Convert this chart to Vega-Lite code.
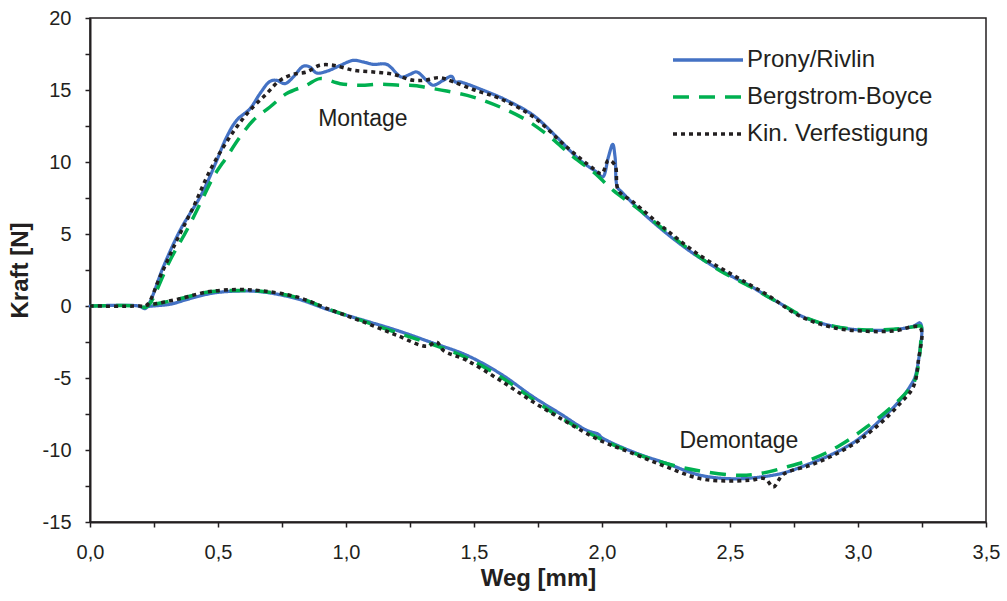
{
  "$schema": "https://vega.github.io/schema/vega-lite/v6.json",
  "width": 896,
  "height": 504,
  "autosize": "none",
  "padding": {"left": 90, "top": 18, "right": 21, "bottom": 79},
  "background": "white",
  "config": {
    "view": {"stroke": "#231F20", "strokeWidth": 1.5},
    "axis": {
      "domainColor": "#231F20", "domainWidth": 2,
      "tickColor": "#231F20", "tickWidth": 1.5, "tickSize": 5,
      "labelFont": "Liberation Sans", "labelFontSize": 20, "labelColor": "#231F20",
      "titleFont": "Liberation Sans", "titleFontSize": 24, "titleFontWeight": "bold", "titleColor": "#231F20",
      "grid": false, "labelOverlap": false, "labelFlush": false
    },
    "legend": {
      "labelFont": "Liberation Sans", "labelFontSize": 24, "labelColor": "#231F20", "labelLimit": 400,
      "symbolType": "M-2.5,0H2.5", "symbolSize": 784, "symbolStrokeWidth": 3.5,
      "rowPadding": 9, "labelOffset": 23
    }
  },
  "datasets": {
    "curves": [
      {"s":"Prony/Rivlin","x":0,"y":0},{"s":"Prony/Rivlin","x":0.19,"y":0},{"s":"Prony/Rivlin","x":0.215,"y":-0.18},{"s":"Prony/Rivlin","x":0.234,"y":0.28},{"s":"Prony/Rivlin","x":0.286,"y":2.7},{"s":"Prony/Rivlin","x":0.352,"y":5.26},{"s":"Prony/Rivlin","x":0.39,"y":6.4},{"s":"Prony/Rivlin","x":0.423,"y":7.34},{"s":"Prony/Rivlin","x":0.456,"y":8.5},{"s":"Prony/Rivlin","x":0.495,"y":10.1},{"s":"Prony/Rivlin","x":0.534,"y":11.74},{"s":"Prony/Rivlin","x":0.573,"y":12.9},{"s":"Prony/Rivlin","x":0.625,"y":13.7},{"s":"Prony/Rivlin","x":0.664,"y":14.75},{"s":"Prony/Rivlin","x":0.703,"y":15.6},{"s":"Prony/Rivlin","x":0.729,"y":15.67},{"s":"Prony/Rivlin","x":0.762,"y":15.44},{"s":"Prony/Rivlin","x":0.794,"y":15.9},{"s":"Prony/Rivlin","x":0.833,"y":16.65},{"s":"Prony/Rivlin","x":0.859,"y":16.6},{"s":"Prony/Rivlin","x":0.885,"y":16.18},{"s":"Prony/Rivlin","x":0.925,"y":16.3},{"s":"Prony/Rivlin","x":0.977,"y":16.7},{"s":"Prony/Rivlin","x":1.029,"y":17.06},{"s":"Prony/Rivlin","x":1.068,"y":16.94},{"s":"Prony/Rivlin","x":1.107,"y":16.78},{"s":"Prony/Rivlin","x":1.159,"y":16.78},{"s":"Prony/Rivlin","x":1.217,"y":15.9},{"s":"Prony/Rivlin","x":1.25,"y":16.09},{"s":"Prony/Rivlin","x":1.276,"y":16.25},{"s":"Prony/Rivlin","x":1.315,"y":15.67},{"s":"Prony/Rivlin","x":1.341,"y":15.33},{"s":"Prony/Rivlin","x":1.38,"y":15.67},{"s":"Prony/Rivlin","x":1.413,"y":15.95},{"s":"Prony/Rivlin","x":1.426,"y":15.56},{"s":"Prony/Rivlin","x":1.445,"y":15.56},{"s":"Prony/Rivlin","x":1.536,"y":14.98},{"s":"Prony/Rivlin","x":1.628,"y":14.28},{"s":"Prony/Rivlin","x":1.732,"y":13.24},{"s":"Prony/Rivlin","x":1.823,"y":11.74},{"s":"Prony/Rivlin","x":1.914,"y":10.12},{"s":"Prony/Rivlin","x":1.979,"y":9.3},{"s":"Prony/Rivlin","x":2.003,"y":8.96},{"s":"Prony/Rivlin","x":2.025,"y":10.35},{"s":"Prony/Rivlin","x":2.042,"y":11.23},{"s":"Prony/Rivlin","x":2.051,"y":10.35},{"s":"Prony/Rivlin","x":2.06,"y":8.26},{"s":"Prony/Rivlin","x":2.077,"y":7.92},{"s":"Prony/Rivlin","x":2.148,"y":6.65},{"s":"Prony/Rivlin","x":2.253,"y":5.03},{"s":"Prony/Rivlin","x":2.357,"y":3.64},{"s":"Prony/Rivlin","x":2.461,"y":2.5},{"s":"Prony/Rivlin","x":2.513,"y":2.0},{"s":"Prony/Rivlin","x":2.578,"y":1.4},{"s":"Prony/Rivlin","x":2.643,"y":0.7},{"s":"Prony/Rivlin","x":2.708,"y":0.05},{"s":"Prony/Rivlin","x":2.773,"y":-0.65},{"s":"Prony/Rivlin","x":2.838,"y":-1.1},{"s":"Prony/Rivlin","x":2.904,"y":-1.41},{"s":"Prony/Rivlin","x":2.97,"y":-1.6},{"s":"Prony/Rivlin","x":3.034,"y":-1.69},{"s":"Prony/Rivlin","x":3.138,"y":-1.64},{"s":"Prony/Rivlin","x":3.216,"y":-1.41},{"s":"Prony/Rivlin","x":3.242,"y":-1.18},{"s":"Prony/Rivlin","x":3.249,"y":-1.46},{"s":"Prony/Rivlin","x":3.242,"y":-3.08},{"s":"Prony/Rivlin","x":3.223,"y":-4.93},{"s":"Prony/Rivlin","x":3.21,"y":-5.39},{"s":"Prony/Rivlin","x":3.164,"y":-6.55},{"s":"Prony/Rivlin","x":3.086,"y":-7.94},{"s":"Prony/Rivlin","x":2.995,"y":-9.33},{"s":"Prony/Rivlin","x":2.904,"y":-10.25},{"s":"Prony/Rivlin","x":2.813,"y":-10.94},{"s":"Prony/Rivlin","x":2.708,"y":-11.6},{"s":"Prony/Rivlin","x":2.617,"y":-11.88},{"s":"Prony/Rivlin","x":2.513,"y":-12.0},{"s":"Prony/Rivlin","x":2.383,"y":-11.75},{"s":"Prony/Rivlin","x":2.253,"y":-10.94},{"s":"Prony/Rivlin","x":2.122,"y":-10.14},{"s":"Prony/Rivlin","x":2.0,"y":-9.15},{"s":"Prony/Rivlin","x":1.985,"y":-8.9},{"s":"Prony/Rivlin","x":1.94,"y":-8.63},{"s":"Prony/Rivlin","x":1.836,"y":-7.47},{"s":"Prony/Rivlin","x":1.732,"y":-6.32},{"s":"Prony/Rivlin","x":1.602,"y":-4.69},{"s":"Prony/Rivlin","x":1.471,"y":-3.42},{"s":"Prony/Rivlin","x":1.328,"y":-2.5},{"s":"Prony/Rivlin","x":1.198,"y":-1.69},{"s":"Prony/Rivlin","x":1.068,"y":-0.99},{"s":"Prony/Rivlin","x":0.9375,"y":-0.3},{"s":"Prony/Rivlin","x":0.807,"y":0.51},{"s":"Prony/Rivlin","x":0.677,"y":0.97},{"s":"Prony/Rivlin","x":0.586,"y":1.04},{"s":"Prony/Rivlin","x":0.482,"y":0.9},{"s":"Prony/Rivlin","x":0.39,"y":0.51},{"s":"Prony/Rivlin","x":0.3125,"y":0.12},{"s":"Prony/Rivlin","x":0.234,"y":-0.02},{"s":"Prony/Rivlin","x":0.208,"y":-0.11},

      {"s":"Bergstrom-Boyce","x":0,"y":0},{"s":"Bergstrom-Boyce","x":0.19,"y":0},{"s":"Bergstrom-Boyce","x":0.215,"y":-0.1},{"s":"Bergstrom-Boyce","x":0.234,"y":0.17},{"s":"Bergstrom-Boyce","x":0.3125,"y":3.17},{"s":"Bergstrom-Boyce","x":0.378,"y":5.26},{"s":"Bergstrom-Boyce","x":0.443,"y":7.57},{"s":"Bergstrom-Boyce","x":0.482,"y":8.96},{"s":"Bergstrom-Boyce","x":0.534,"y":10.35},{"s":"Bergstrom-Boyce","x":0.586,"y":11.74},{"s":"Bergstrom-Boyce","x":0.638,"y":12.9},{"s":"Bergstrom-Boyce","x":0.703,"y":13.82},{"s":"Bergstrom-Boyce","x":0.768,"y":14.75},{"s":"Bergstrom-Boyce","x":0.846,"y":15.33},{"s":"Bergstrom-Boyce","x":0.898,"y":15.79},{"s":"Bergstrom-Boyce","x":0.977,"y":15.44},{"s":"Bergstrom-Boyce","x":1.055,"y":15.33},{"s":"Bergstrom-Boyce","x":1.133,"y":15.4},{"s":"Bergstrom-Boyce","x":1.211,"y":15.33},{"s":"Bergstrom-Boyce","x":1.276,"y":15.3},{"s":"Bergstrom-Boyce","x":1.315,"y":15.17},{"s":"Bergstrom-Boyce","x":1.393,"y":14.93},{"s":"Bergstrom-Boyce","x":1.497,"y":14.51},{"s":"Bergstrom-Boyce","x":1.602,"y":13.82},{"s":"Bergstrom-Boyce","x":1.706,"y":12.9},{"s":"Bergstrom-Boyce","x":1.797,"y":11.74},{"s":"Bergstrom-Boyce","x":1.888,"y":10.35},{"s":"Bergstrom-Boyce","x":1.966,"y":9.31},{"s":"Bergstrom-Boyce","x":2.044,"y":8.03},{"s":"Bergstrom-Boyce","x":2.148,"y":6.65},{"s":"Bergstrom-Boyce","x":2.253,"y":5.15},{"s":"Bergstrom-Boyce","x":2.357,"y":3.7},{"s":"Bergstrom-Boyce","x":2.461,"y":2.45},{"s":"Bergstrom-Boyce","x":2.513,"y":1.95},{"s":"Bergstrom-Boyce","x":2.578,"y":1.35},{"s":"Bergstrom-Boyce","x":2.643,"y":0.7},{"s":"Bergstrom-Boyce","x":2.708,"y":0.05},{"s":"Bergstrom-Boyce","x":2.773,"y":-0.62},{"s":"Bergstrom-Boyce","x":2.838,"y":-1.08},{"s":"Bergstrom-Boyce","x":2.904,"y":-1.4},{"s":"Bergstrom-Boyce","x":2.97,"y":-1.58},{"s":"Bergstrom-Boyce","x":3.034,"y":-1.66},{"s":"Bergstrom-Boyce","x":3.138,"y":-1.62},{"s":"Bergstrom-Boyce","x":3.216,"y":-1.45},{"s":"Bergstrom-Boyce","x":3.245,"y":-1.4},{"s":"Bergstrom-Boyce","x":3.245,"y":-2.5},{"s":"Bergstrom-Boyce","x":3.232,"y":-4.5},{"s":"Bergstrom-Boyce","x":3.216,"y":-5.39},{"s":"Bergstrom-Boyce","x":3.138,"y":-6.9},{"s":"Bergstrom-Boyce","x":3.034,"y":-8.4},{"s":"Bergstrom-Boyce","x":2.93,"y":-9.67},{"s":"Bergstrom-Boyce","x":2.825,"y":-10.6},{"s":"Bergstrom-Boyce","x":2.721,"y":-11.18},{"s":"Bergstrom-Boyce","x":2.617,"y":-11.64},{"s":"Bergstrom-Boyce","x":2.539,"y":-11.76},{"s":"Bergstrom-Boyce","x":2.409,"y":-11.53},{"s":"Bergstrom-Boyce","x":2.305,"y":-11.18},{"s":"Bergstrom-Boyce","x":2.2,"y":-10.67},{"s":"Bergstrom-Boyce","x":2.096,"y":-10.02},{"s":"Bergstrom-Boyce","x":1.992,"y":-9.21},{"s":"Bergstrom-Boyce","x":1.862,"y":-8.0},{"s":"Bergstrom-Boyce","x":1.732,"y":-6.5},{"s":"Bergstrom-Boyce","x":1.602,"y":-4.9},{"s":"Bergstrom-Boyce","x":1.471,"y":-3.6},{"s":"Bergstrom-Boyce","x":1.367,"y":-2.85},{"s":"Bergstrom-Boyce","x":1.198,"y":-1.85},{"s":"Bergstrom-Boyce","x":1.068,"y":-1.05},{"s":"Bergstrom-Boyce","x":0.9375,"y":-0.25},{"s":"Bergstrom-Boyce","x":0.807,"y":0.6},{"s":"Bergstrom-Boyce","x":0.677,"y":1.0},{"s":"Bergstrom-Boyce","x":0.586,"y":1.08},{"s":"Bergstrom-Boyce","x":0.456,"y":0.95},{"s":"Bergstrom-Boyce","x":0.352,"y":0.5},{"s":"Bergstrom-Boyce","x":0.26,"y":0.15},{"s":"Bergstrom-Boyce","x":0.221,"y":0.03},

      {"s":"Kin. Verfestigung","x":0,"y":0},{"s":"Kin. Verfestigung","x":0.19,"y":0},{"s":"Kin. Verfestigung","x":0.221,"y":0.05},{"s":"Kin. Verfestigung","x":0.273,"y":2.01},{"s":"Kin. Verfestigung","x":0.339,"y":4.56},{"s":"Kin. Verfestigung","x":0.404,"y":6.88},{"s":"Kin. Verfestigung","x":0.469,"y":9.42},{"s":"Kin. Verfestigung","x":0.521,"y":11.04},{"s":"Kin. Verfestigung","x":0.573,"y":12.43},{"s":"Kin. Verfestigung","x":0.625,"y":13.59},{"s":"Kin. Verfestigung","x":0.69,"y":14.75},{"s":"Kin. Verfestigung","x":0.742,"y":15.67},{"s":"Kin. Verfestigung","x":0.794,"y":16.09},{"s":"Kin. Verfestigung","x":0.846,"y":16.25},{"s":"Kin. Verfestigung","x":0.898,"y":16.72},{"s":"Kin. Verfestigung","x":0.95,"y":16.72},{"s":"Kin. Verfestigung","x":1.029,"y":16.37},{"s":"Kin. Verfestigung","x":1.107,"y":16.25},{"s":"Kin. Verfestigung","x":1.185,"y":16.09},{"s":"Kin. Verfestigung","x":1.263,"y":15.67},{"s":"Kin. Verfestigung","x":1.315,"y":15.7},{"s":"Kin. Verfestigung","x":1.367,"y":15.86},{"s":"Kin. Verfestigung","x":1.419,"y":15.56},{"s":"Kin. Verfestigung","x":1.502,"y":15.0},{"s":"Kin. Verfestigung","x":1.602,"y":14.4},{"s":"Kin. Verfestigung","x":1.732,"y":13.13},{"s":"Kin. Verfestigung","x":1.862,"y":11.04},{"s":"Kin. Verfestigung","x":1.966,"y":9.54},{"s":"Kin. Verfestigung","x":1.999,"y":9.19},{"s":"Kin. Verfestigung","x":2.025,"y":10.12},{"s":"Kin. Verfestigung","x":2.051,"y":9.77},{"s":"Kin. Verfestigung","x":2.064,"y":8.03},{"s":"Kin. Verfestigung","x":2.122,"y":7.22},{"s":"Kin. Verfestigung","x":2.253,"y":5.26},{"s":"Kin. Verfestigung","x":2.383,"y":3.5},{"s":"Kin. Verfestigung","x":2.513,"y":2.13},{"s":"Kin. Verfestigung","x":2.643,"y":0.8},{"s":"Kin. Verfestigung","x":2.773,"y":-0.7},{"s":"Kin. Verfestigung","x":2.904,"y":-1.5},{"s":"Kin. Verfestigung","x":3.034,"y":-1.76},{"s":"Kin. Verfestigung","x":3.138,"y":-1.74},{"s":"Kin. Verfestigung","x":3.242,"y":-1.5},{"s":"Kin. Verfestigung","x":3.236,"y":-3.77},{"s":"Kin. Verfestigung","x":3.216,"y":-5.62},{"s":"Kin. Verfestigung","x":3.164,"y":-6.78},{"s":"Kin. Verfestigung","x":3.086,"y":-8.17},{"s":"Kin. Verfestigung","x":2.995,"y":-9.44},{"s":"Kin. Verfestigung","x":2.904,"y":-10.37},{"s":"Kin. Verfestigung","x":2.813,"y":-11.06},{"s":"Kin. Verfestigung","x":2.708,"y":-11.69},{"s":"Kin. Verfestigung","x":2.669,"y":-12.57},{"s":"Kin. Verfestigung","x":2.637,"y":-11.99},{"s":"Kin. Verfestigung","x":2.578,"y":-12.1},{"s":"Kin. Verfestigung","x":2.487,"y":-12.15},{"s":"Kin. Verfestigung","x":2.383,"y":-11.99},{"s":"Kin. Verfestigung","x":2.253,"y":-11.18},{"s":"Kin. Verfestigung","x":2.122,"y":-10.25},{"s":"Kin. Verfestigung","x":1.992,"y":-9.33},{"s":"Kin. Verfestigung","x":1.862,"y":-8.06},{"s":"Kin. Verfestigung","x":1.732,"y":-6.67},{"s":"Kin. Verfestigung","x":1.602,"y":-5.16},{"s":"Kin. Verfestigung","x":1.471,"y":-3.77},{"s":"Kin. Verfestigung","x":1.38,"y":-3.08},{"s":"Kin. Verfestigung","x":1.354,"y":-2.5},{"s":"Kin. Verfestigung","x":1.315,"y":-2.8},{"s":"Kin. Verfestigung","x":1.198,"y":-2.03},{"s":"Kin. Verfestigung","x":1.068,"y":-1.11},{"s":"Kin. Verfestigung","x":0.9375,"y":-0.25},{"s":"Kin. Verfestigung","x":0.807,"y":0.63},{"s":"Kin. Verfestigung","x":0.677,"y":1.04},{"s":"Kin. Verfestigung","x":0.573,"y":1.14},{"s":"Kin. Verfestigung","x":0.456,"y":0.97},{"s":"Kin. Verfestigung","x":0.352,"y":0.51},{"s":"Kin. Verfestigung","x":0.26,"y":0.17},{"s":"Kin. Verfestigung","x":0.221,"y":0.05}
    ],
    "notes": [
      {"label": "Montage", "x": 1.066, "y": 13.0},
      {"label": "Demontage", "x": 2.535, "y": -9.35}
    ]
  },
  "encoding": {
    "x": {"field": "x", "type": "quantitative", "scale": {"domain": [0, 3.5], "nice": false, "zero": false},
      "axis": {"title": "Weg [mm]", "values": [0,0.25,0.5,0.75,1,1.25,1.5,1.75,2,2.25,2.5,2.75,3,3.25,3.5],
        "labelExpr": "datum.value % 0.5 == 0 ? replace(format(datum.value, '.1f'), '.', ',') : ''",
        "labelPadding": 15, "titlePadding": 4}},
    "y": {"field": "y", "type": "quantitative", "scale": {"domain": [-15, 20], "nice": false, "zero": false},
      "axis": {"title": "Kraft [N]", "values": [-15,-12.5,-10,-7.5,-5,-2.5,0,2.5,5,7.5,10,12.5,15,17.5,20],
        "labelExpr": "datum.value % 5 == 0 ? '' + datum.value : ''",
        "labelPadding": 14, "titlePadding": 10}}
  },
  "layer": [
    {
      "data": {"name": "curves"},
      "transform": [{"filter": "datum.s == 'Prony/Rivlin'"}],
      "mark": {"type": "line", "strokeWidth": 3.2, "interpolate": "catmull-rom", "strokeJoin": "round", "strokeCap": "round"},
      "encoding": {
        "order": {"value": null},
        "color": {"field": "s", "type": "nominal", "scale": {"domain": ["Prony/Rivlin", "Bergstrom-Boyce", "Kin. Verfestigung"], "range": ["#4472C4", "#00B050", "#231F20"]},
          "legend": {"title": null, "orient": "none", "legendX": 602, "legendY": 26}},
        "strokeDash": {"field": "s", "type": "nominal", "scale": {"domain": ["Prony/Rivlin", "Bergstrom-Boyce", "Kin. Verfestigung"], "range": [[1, 0], [16, 10], [4, 4]]},
          "legend": {"title": null, "orient": "none", "legendX": 602, "legendY": 26}}
      }
    },
    {
      "data": {"name": "curves"},
      "transform": [{"filter": "datum.s == 'Bergstrom-Boyce'"}],
      "mark": {"type": "line", "strokeWidth": 3.5, "interpolate": "catmull-rom"},
      "encoding": {
        "order": {"value": null},
        "color": {"field": "s", "type": "nominal"},
        "strokeDash": {"field": "s", "type": "nominal"}
      }
    },
    {
      "data": {"name": "curves"},
      "transform": [{"filter": "datum.s == 'Kin. Verfestigung'"}],
      "mark": {"type": "line", "strokeWidth": 3.5, "interpolate": "catmull-rom"},
      "encoding": {
        "order": {"value": null},
        "color": {"field": "s", "type": "nominal"},
        "strokeDash": {"field": "s", "type": "nominal"}
      }
    },
    {
      "data": {"name": "notes"},
      "mark": {"type": "text", "font": "Liberation Sans", "fontSize": 23, "color": "#231F20", "align": "center", "baseline": "middle"},
      "encoding": {"text": {"field": "label"}}
    }
  ]
}
